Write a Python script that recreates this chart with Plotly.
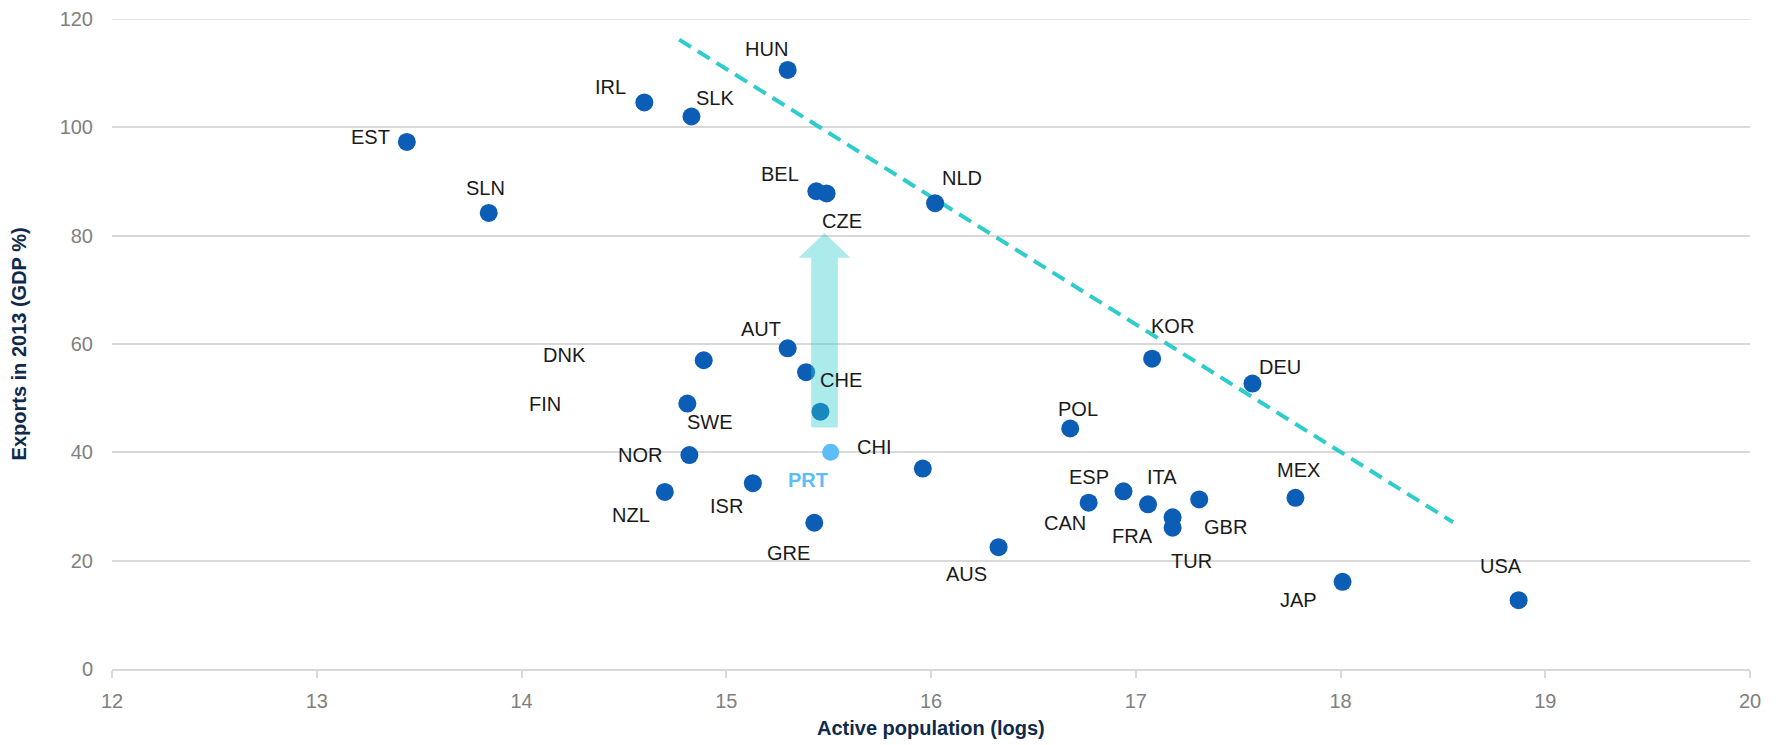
import plotly.graph_objects as go

# ---------------- data ----------------
countries = ["EST", "SLN", "IRL", "SLK", "HUN", "BEL", "CZE", "NLD", "AUT", "DNK",
             "CHE", "SWE", "FIN", "NOR", "NZL", "ISR", "GRE", "CHI", "AUS", "POL",
             "KOR", "DEU", "CAN", "ESP", "ITA", "GBR", "FRA", "TUR", "MEX", "JAP", "USA"]
active_pop_log = [13.44, 13.84, 14.60, 14.83, 15.30, 15.44, 15.49, 16.02, 15.30, 14.89,
                  15.39, 15.46, 14.81, 14.82, 14.70, 15.13, 15.43, 15.96, 16.33, 16.68,
                  17.08, 17.57, 16.77, 16.94, 17.06, 17.31, 17.18, 17.18, 17.78, 18.01, 18.87]
exports_gdp = [97.3, 84.2, 104.6, 102.0, 110.6, 88.2, 87.8, 86.0, 59.2, 57.0,
               54.8, 47.5, 49.0, 39.5, 32.7, 34.3, 27.0, 37.0, 22.5, 44.4,
               57.3, 52.7, 30.7, 32.8, 30.4, 31.3, 28.0, 26.1, 31.6, 16.1, 12.7]

highlight_country = "PRT"
highlight_x = 15.51
highlight_y = 40.0

trend_x = [14.77, 18.55]
trend_y = [116.2, 27.1]

arrow_x = 15.48
arrow_y_from = 44.6
arrow_y_to = 80.5

x_ticks = [12, 13, 14, 15, 16, 17, 18, 19, 20]
y_ticks = [0, 20, 40, 60, 80, 100, 120]

# ---------------- styles ----------------
FONT = "Arial, 'Liberation Sans', sans-serif"
DOT = "#0B5DB5"
LIGHT = "#5CBDF8"
TEAL = "#2ECCCC"
GRID = "#D9D9D9"
TITLE_C = "#0F2A4A"

# label pixel offsets (dx right, dy down) from each dot
label_offsets = {
    "HUN": (-21, -21), "IRL": (-34, -15), "SLK": (24, -19), "EST": (-36, -5),
    "BEL": (-36, -17), "CZE": (15, 28), "NLD": (27, -25), "SLN": (-3, -25),
    "AUT": (-27, -19), "DNK": (-139, -5), "KOR": (20, -33), "DEU": (28, -17),
    "CHE": (35, 8), "FIN": (-142, 0), "POL": (8, -20), "SWE": (-110, 10),
    "NOR": (-49, 0), "CHI": (-49, -22), "ESP": (-34, -14), "ITA": (14, -27),
    "MEX": (3, -28), "ISR": (-26, 23), "NZL": (-34, 23), "CAN": (-24, 20),
    "GBR": (26, 28), "FRA": (-40, 19), "GRE": (-26, 30), "AUS": (-32, 27),
    "TUR": (19, 33), "USA": (-18, -34), "JAP": (-44, 18),
}
PRT_OFFSET = (-23, 28)

fig = go.Figure()

fig.add_trace(go.Scatter(
    x=trend_x, y=trend_y, mode="lines",
    line=dict(color=TEAL, width=4, dash="14px,8px"),
    hoverinfo="skip", showlegend=False))

fig.add_trace(go.Scatter(
    x=active_pop_log, y=exports_gdp, mode="markers",
    marker=dict(size=18, color=DOT, line=dict(width=0)),
    text=countries, showlegend=False))

fig.add_trace(go.Scatter(
    x=[highlight_x], y=[highlight_y], mode="markers",
    marker=dict(size=17, color=LIGHT, line=dict(width=0)),
    text=[highlight_country], showlegend=False))

# top gridline (plotly drops gridlines lying on the plot edge)
fig.add_shape(type="line", xref="paper", yref="y", x0=0, x1=1,
              y0=y_ticks[-1], y1=y_ticks[-1],
              line=dict(color=GRID, width=1.5), layer="below")

# block arrow (semi-transparent) built from arrow data
SH = 0.065   # shaft half width (x units)
HH = 0.127   # head half width (x units)
HL = 4.6     # head length (y units)
yb = arrow_y_to - HL
path = (f"M {arrow_x - SH},{arrow_y_from} L {arrow_x + SH},{arrow_y_from} "
        f"L {arrow_x + SH},{yb} L {arrow_x + HH},{yb} L {arrow_x},{arrow_y_to} "
        f"L {arrow_x - HH},{yb} L {arrow_x - SH},{yb} Z")
fig.add_shape(type="path", path=path, xref="x", yref="y",
              fillcolor="rgba(46,204,204,0.40)", line=dict(width=0), layer="above")

annotations = []
for c, xv, yv in zip(countries, active_pop_log, exports_gdp):
    dx, dy = label_offsets[c]
    annotations.append(dict(x=xv, y=yv, xref="x", yref="y", text=c, showarrow=False,
                            xshift=dx, yshift=-dy,
                            font=dict(family=FONT, size=20, color="#1A1A1A")))
annotations.append(dict(x=highlight_x, y=highlight_y, xref="x", yref="y",
                        text=f"<b>{highlight_country}</b>", showarrow=False,
                        xshift=PRT_OFFSET[0], yshift=-PRT_OFFSET[1],
                        font=dict(family=FONT, size=20, color=LIGHT)))
# axis titles
annotations.append(dict(x=0.5, y=-0.091, xref="paper", yref="paper",
                        text="<b>Active population (logs)</b>", showarrow=False,
                        xanchor="center", yanchor="middle",
                        font=dict(family=FONT, size=20, color=TITLE_C)))
annotations.append(dict(x=-0.0565, y=0.5, xref="paper", yref="paper",
                        text="<b>Exports in 2013 (GDP %)</b>", showarrow=False,
                        textangle=-90, xanchor="center", yanchor="middle",
                        font=dict(family=FONT, size=20, color=TITLE_C)))

fig.update_layout(
    width=1785, height=745,
    margin=dict(l=104, r=43, t=11, b=84, pad=0, autoexpand=False),
    paper_bgcolor="white", plot_bgcolor="white",
    font=dict(family=FONT, size=20, color="#7F7F7F"),
    annotations=annotations,
    showlegend=False,
)
fig.update_xaxes(range=[12, 20], tickvals=x_ticks, showgrid=False, zeroline=False,
                 automargin=False,
                 showline=True, linecolor=GRID, linewidth=1.5,
                 ticks="outside", ticklen=7, tickcolor=GRID, tickwidth=1.5,
                 ticklabelstandoff=6,
                 tickfont=dict(family=FONT, size=20, color="#7F7F7F"))
fig.update_yaxes(range=[0, 120], tickvals=y_ticks, showgrid=True, gridcolor=GRID,
                 automargin=False,
                 gridwidth=1.5, zeroline=False, showline=False, ticks="",
                 ticklabelstandoff=18,
                 tickfont=dict(family=FONT, size=20, color="#7F7F7F"))

fig.write_html("out.html")
